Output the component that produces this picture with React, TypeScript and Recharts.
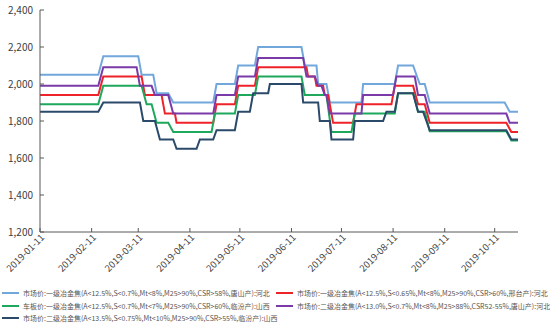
import { LineChart, Line, XAxis, YAxis } from "recharts";

type Pt = [string, number];

// change points (price steps, slanted over a day or two)
const tangshanGrade1: Pt[] = [
  ["2019-01-11", 2050], ["2019-02-15", 2050], ["2019-02-18", 2150], ["2019-03-11", 2150],
  ["2019-03-13", 2050], ["2019-03-20", 2050], ["2019-03-22", 1950], ["2019-03-29", 1950],
  ["2019-04-01", 1900], ["2019-04-25", 1900], ["2019-04-27", 2000], ["2019-05-08", 2000],
  ["2019-05-10", 2100], ["2019-05-20", 2100], ["2019-05-22", 2200], ["2019-06-17", 2200],
  ["2019-06-19", 2100], ["2019-06-26", 2100], ["2019-06-27", 2000], ["2019-07-02", 2000],
  ["2019-07-04", 1900], ["2019-07-23", 1900], ["2019-07-24", 2000], ["2019-08-12", 2000],
  ["2019-08-14", 2100], ["2019-08-23", 2100], ["2019-08-27", 2000], ["2019-08-30", 2000],
  ["2019-09-02", 1900], ["2019-10-17", 1900], ["2019-10-20", 1850], ["2019-10-25", 1850],
];

const xingtaiGrade1: Pt[] = [
  ["2019-01-11", 1940], ["2019-02-15", 1940], ["2019-02-18", 2040], ["2019-03-13", 2040],
  ["2019-03-15", 1940], ["2019-03-25", 1940], ["2019-03-27", 1840], ["2019-04-02", 1840],
  ["2019-04-03", 1790], ["2019-04-25", 1790], ["2019-04-27", 1890], ["2019-05-08", 1890],
  ["2019-05-10", 1990], ["2019-05-20", 1990], ["2019-05-22", 2090], ["2019-06-20", 2090],
  ["2019-06-21", 2040], ["2019-06-25", 2040], ["2019-06-26", 1990], ["2019-06-30", 1990],
  ["2019-07-01", 1940], ["2019-07-03", 1940], ["2019-07-06", 1790], ["2019-07-18", 1790],
  ["2019-07-20", 1890], ["2019-08-10", 1890], ["2019-08-12", 1990], ["2019-08-23", 1990],
  ["2019-08-26", 1890], ["2019-08-30", 1890], ["2019-09-02", 1790], ["2019-10-18", 1790],
  ["2019-10-21", 1740], ["2019-10-25", 1740],
];

const linfenGrade1: Pt[] = [
  ["2019-01-11", 1890], ["2019-02-15", 1890], ["2019-02-18", 1990], ["2019-03-13", 1990],
  ["2019-03-16", 1890], ["2019-03-19", 1890], ["2019-03-22", 1790], ["2019-03-29", 1790],
  ["2019-04-01", 1740], ["2019-04-24", 1740], ["2019-04-26", 1840], ["2019-05-08", 1840],
  ["2019-05-10", 1940], ["2019-05-20", 1940], ["2019-05-22", 2040], ["2019-06-17", 2040],
  ["2019-06-19", 1940], ["2019-07-02", 1940], ["2019-07-05", 1740], ["2019-07-17", 1740],
  ["2019-07-19", 1840], ["2019-08-12", 1840], ["2019-08-14", 1950], ["2019-08-23", 1950],
  ["2019-08-26", 1850], ["2019-08-30", 1850], ["2019-09-02", 1745], ["2019-10-18", 1745],
  ["2019-10-21", 1695], ["2019-10-25", 1695],
];

const tangshanGrade2: Pt[] = [
  ["2019-01-11", 1990], ["2019-02-15", 1990], ["2019-02-18", 2090], ["2019-03-10", 2090],
  ["2019-03-12", 1990], ["2019-03-19", 1990], ["2019-03-21", 1940], ["2019-03-29", 1940],
  ["2019-04-01", 1840], ["2019-04-25", 1840], ["2019-04-27", 1940], ["2019-05-08", 1940],
  ["2019-05-10", 2040], ["2019-05-20", 2040], ["2019-05-22", 2140], ["2019-06-18", 2140],
  ["2019-06-20", 2040], ["2019-06-25", 2040], ["2019-06-27", 1990], ["2019-06-29", 1990],
  ["2019-07-01", 1940], ["2019-07-02", 1940], ["2019-07-04", 1840], ["2019-07-23", 1840],
  ["2019-07-24", 1940], ["2019-08-11", 1940], ["2019-08-13", 2040], ["2019-08-24", 2040],
  ["2019-08-26", 1940], ["2019-08-30", 1940], ["2019-09-02", 1840], ["2019-10-18", 1840],
  ["2019-10-20", 1790], ["2019-10-25", 1790],
];

const linfenGrade2: Pt[] = [
  ["2019-01-11", 1850], ["2019-02-15", 1850], ["2019-02-18", 1900], ["2019-03-12", 1900],
  ["2019-03-14", 1800], ["2019-03-21", 1800], ["2019-03-24", 1700], ["2019-04-01", 1700],
  ["2019-04-03", 1650], ["2019-04-15", 1650], ["2019-04-17", 1700], ["2019-04-25", 1700],
  ["2019-04-27", 1750], ["2019-05-08", 1750], ["2019-05-10", 1850], ["2019-05-17", 1850],
  ["2019-05-19", 1950], ["2019-05-28", 1950], ["2019-05-29", 2000], ["2019-06-17", 2000],
  ["2019-06-18", 1900], ["2019-06-27", 1900], ["2019-06-28", 1800], ["2019-07-04", 1800],
  ["2019-07-05", 1700], ["2019-07-18", 1700], ["2019-07-19", 1800], ["2019-08-05", 1800],
  ["2019-08-07", 1850], ["2019-08-12", 1850], ["2019-08-14", 1950], ["2019-08-23", 1950],
  ["2019-08-26", 1850], ["2019-08-29", 1850], ["2019-09-02", 1750], ["2019-10-18", 1750],
  ["2019-10-21", 1700], ["2019-10-25", 1700],
];

const X_TICKS = [
  "2019-01-11", "2019-02-11", "2019-03-11", "2019-04-11", "2019-05-11",
  "2019-06-11", "2019-07-11", "2019-08-11", "2019-09-11", "2019-10-11",
];
const Y_TICKS = [1200, 1400, 1600, 1800, 2000, 2200, 2400];
const X_START = "2019-01-11";
const X_END = "2019-10-25";

const FONT = "'Noto Sans CJK SC', 'Noto Sans', sans-serif";

const ts = (d: string) => Date.parse(d + "T00:00:00Z");
const toRows = (pts: Pt[]) => pts.map(([d, v]) => ({ t: ts(d), v }));

const SERIES = [
  { name: "市场价:一级冶金焦(A<12.5%,S<0.7%,Mt<8%,M25>90%,CSR>58%,唐山产):河北", color: "#72a7dc", pts: tangshanGrade1 },
  { name: "市场价:一级冶金焦(A<12.5%,S<0.65%,Mt<8%,M25>90%,CSR>60%,邢台产):河北", color: "#ee2229", pts: xingtaiGrade1 },
  { name: "车板价:一级冶金焦(A<12.5%,S<0.7%,Mt<7%,M25>90%,CSR>60%,临汾产):山西", color: "#1ea85c", pts: linfenGrade1 },
  { name: "市场价:二级冶金焦(A<13.0%,S<0.7%,Mt<8%,M25>88%,CSR52-55%,唐山产):河北", color: "#7a3aa8", pts: tangshanGrade2 },
  { name: "市场价:二级冶金焦(A<13.5%,S<0.75%,Mt<10%,M25>90%,CSR>55%,临汾产):山西", color: "#2b4a6a", pts: linfenGrade2 },
];

const DateTick = ({ x, y, payload }: any) => {
  const d = new Date(payload.value).toISOString().slice(0, 10);
  const ax = x + 5;
  const ay = y + 4;
  return (
    <text
      x={ax}
      y={ay}
      transform={`rotate(-45 ${ax} ${ay})`}
      textAnchor="end"
      fontSize={9.5}
      fill="#404040"
      fontFamily={FONT}
    >
      {d}
    </text>
  );
};

export default function App() {
  const legendLeft = [0, 2, 4];
  const legendRight = [1, 3];
  const item = (i: number, left: number, top: number) => (
    <div
      key={i}
      style={{ position: "absolute", left, top, display: "flex", alignItems: "center", whiteSpace: "nowrap" }}
    >
      <span style={{ display: "inline-block", width: 17, height: 2, background: SERIES[i].color, marginRight: 4 }} />
      <span style={{ fontSize: 7, color: "#555", fontFamily: FONT }}>{SERIES[i].name}</span>
    </div>
  );

  return (
    <div style={{ position: "absolute", left: 0, top: 0, width: 550, height: 331, background: "#fff" }}>
      <LineChart width={550} height={331} margin={{ top: 10, right: 32, bottom: 49, left: 0 }}>
        <XAxis
          type="number"
          dataKey="t"
          domain={[ts(X_START), ts(X_END)]}
          allowDataOverflow
          ticks={X_TICKS.map(ts)}
          height={50}
          stroke="#595959"
          tickSize={-4}
          tickMargin={6}
          tick={<DateTick />}
          interval={0}
        />
        <YAxis
          type="number"
          domain={[1200, 2400]}
          ticks={Y_TICKS}
          width={40}
          stroke="#595959"
          tickSize={-4}
          tickMargin={11}
          tickFormatter={(v: number) => v.toLocaleString("en-US")}
          tick={{ fontSize: 10, fill: "#404040", fontFamily: FONT }}
          interval={0}
        />
        {SERIES.map((s) => (
          <Line
            key={s.name}
            data={toRows(s.pts)}
            dataKey="v"
            type="linear"
            stroke={s.color}
            strokeWidth={2}
            dot={false}
            activeDot={false}
            isAnimationActive={false}
          />
        ))}
      </LineChart>
      {legendLeft.map((i, k) => item(i, 2, 288 + k * 12.5))}
      {legendRight.map((i, k) => item(i, 276, 288 + k * 12.5))}
    </div>
  );
}
